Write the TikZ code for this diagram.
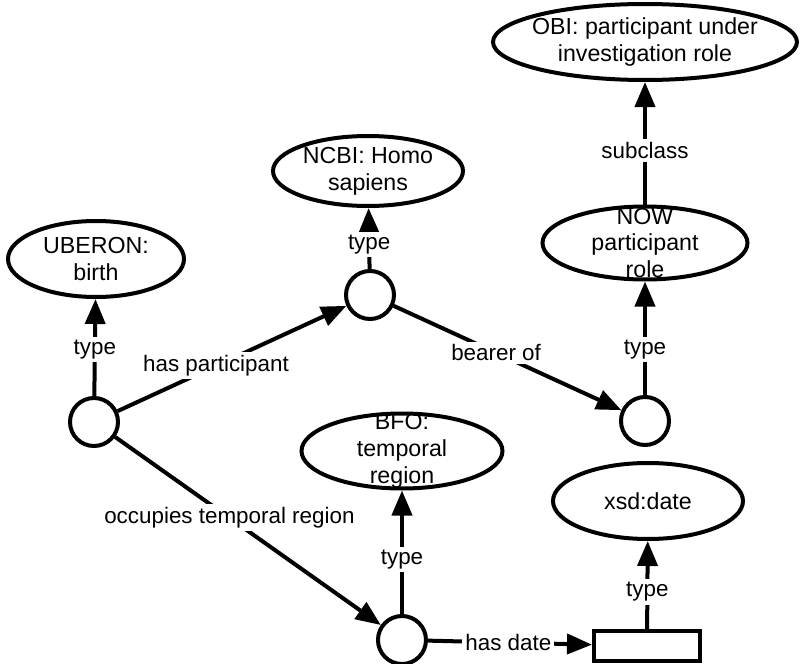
\documentclass[tikz,border=0pt]{standalone}
\usepackage{fontspec}
\setmainfont{Liberation Sans}
\usetikzlibrary{arrows.meta,shapes.geometric}
\tikzset{
  cls/.style={draw, ellipse, line width=2pt, inner sep=0pt},
  ctext/.style={align=center, inner sep=0pt, font=\fontsize{11.6}{13.4}\selectfont},
  inst/.style={draw, circle, line width=2pt, minimum size=24pt, inner sep=0pt},
  lit/.style={draw, rectangle, line width=2pt, minimum width=53pt, minimum height=15pt, inner sep=0pt},
  arr/.style={line width=2pt, -{Triangle[length=12.5pt,width=10pt]}},
  lbl/.style={fill=white, inner sep=1.5pt, font=\fontsize{11.2}{13.4}\selectfont}
}
\begin{document}
\begin{tikzpicture}[x=0.5pt,y=-0.5pt]
\useasboundingbox (0,0) rectangle (800,664);
% classes
\node[cls, minimum width=88pt, minimum height=38pt,
  label={[ctext]center:UBERON:\\birth}] (uberon) at (96,259) {};
\node[cls, minimum width=95pt, minimum height=35pt,
  label={[ctext]center:NCBI: Homo\\sapiens}] (ncbi) at (368,171) {};
\node[cls, minimum width=152pt, minimum height=38pt,
  label={[ctext]center:OBI: participant under\\investigation role}] (obi) at (645,42) {};
\node[cls, minimum width=102.5pt, minimum height=36.5pt,
  label={[ctext]center:NOW\\participant\\role}] (now) at (645,243) {};
\node[cls, minimum width=100.5pt, minimum height=37.5pt,
  label={[ctext]center:BFO:\\temporal\\region}] (bfo) at (402,451) {};
\node[cls, minimum width=95pt, minimum height=38pt,
  label={[ctext]center:xsd:date}] (xsd) at (648,501) {};
% instances
\node[inst] (birth) at (94,422) {};
\node[inst] (part) at (370,295) {};
\node[inst] (role) at (645,421) {};
\node[inst] (tr) at (402,640) {};
\node[lit] (date) at (647,646) {};
% connectors
\draw[arr] (birth) -- node[lbl,pos=.48]{type} (uberon);
\draw[arr] (birth) -- node[lbl,pos=.43]{has participant} (part);
\draw[arr] (part) -- node[lbl,pos=.4]{type} (ncbi);
\draw[arr] (part) -- node[lbl,pos=.45]{bearer of} (role);
\draw[arr] (role) -- node[lbl,pos=.4]{type} (now);
\draw[arr] (now) -- node[lbl,pos=.44]{subclass} (obi);
\draw[arr] (birth) -- node[lbl,pos=.43]{occupies temporal region} (tr);
\draw[arr] (tr) -- node[lbl,pos=.44]{type} (bfo);
\draw[arr] (tr) -- node[lbl,pos=.49]{has date} (date);
\draw[arr] (date) -- node[lbl,pos=.42]{type} (xsd);
\end{tikzpicture}
\end{document}
